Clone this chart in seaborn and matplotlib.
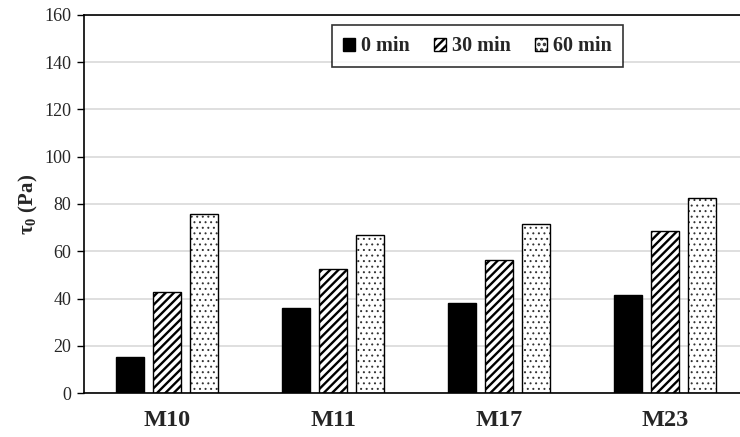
import matplotlib
matplotlib.use("Agg")
import matplotlib.pyplot as plt
import seaborn as sns
import pandas as pd

categories = ["M10", "M11", "M17", "M23"]
series_names = ["0 min", "30 min", "60 min"]
v0 = [15.4, 35.8, 38.0, 41.6]
v30 = [42.9, 52.6, 56.3, 68.6]
v60 = [75.8, 66.7, 71.5, 82.7]
yticks = [0, 20, 40, 60, 80, 100, 120, 140, 160]

rows = []
for name, vals in zip(series_names, [v0, v30, v60]):
    for c, v in zip(categories, vals):
        rows.append({"cat": c, "time": name, "val": v})
df = pd.DataFrame(rows)

sns.set_style("white")
plt.rcParams["font.family"] = ["Liberation Serif", "DejaVu Serif"]
plt.rcParams["mathtext.fontset"] = "custom"
plt.rcParams["mathtext.rm"] = "Liberation Serif"
plt.rcParams["mathtext.bf"] = "Liberation Serif:bold"
plt.rcParams["hatch.linewidth"] = 1.7

fig = plt.figure(figsize=(7.4, 4.37), dpi=100)
ax = fig.add_axes([84 / 740, (437 - 393) / 437, (740 - 84) / 740, 378 / 437])

sns.barplot(data=df, x="cat", y="val", hue="time", order=categories,
            hue_order=series_names, palette=["black", "white", "white"],
            width=0.67, gap=0.24, edgecolor="black", linewidth=1.0,
            saturation=1, ax=ax, legend=False)

hatches = ["", "////", "..."]
hcolors = [(0, 0, 0, 1), (0, 0, 0, 1), (0.2, 0.2, 0.2, 1)]
hlw = [1.7, 1.7, 0.7]
for cont, h, hc, lw in zip(ax.containers, hatches, hcolors, hlw):
    for p in cont:
        p.set_hatch(h)
        p.set_edgecolor("black")
        p._hatch_color = hc
        if hasattr(p, "set_hatch_linewidth"):
            p.set_hatch_linewidth(lw)
        else:
            p._hatch_linewidth = lw

ax.set_xlim(-0.5, 3.45)
ax.set_ylim(0, 160)
ax.set_yticks(yticks)
ax.set_yticklabels([str(t) for t in yticks], fontsize=13)
ax.yaxis.grid(True, color="#d9d9d9", linewidth=1.2)
ax.set_axisbelow(True)
ax.tick_params(axis="y", direction="out", length=5, width=1, color="black", pad=4, left=True)
ax.tick_params(axis="x", length=0, pad=12)
for lab in ax.get_xticklabels():
    lab.set_fontsize(17.5)
    lab.set_fontweight("bold")
ax.set_xlabel("")
ax.set_ylabel(r"τ$_\mathbf{0}$ (Pa)", fontsize=15, fontweight="bold", labelpad=3)
for s in ["left", "bottom", "top"]:
    ax.spines[s].set_visible(True)
    ax.spines[s].set_color("black")
    ax.spines[s].set_linewidth(1.2)
ax.spines["right"].set_visible(False)

handles = [c.patches[0] for c in ax.containers]
leg = ax.legend(handles, series_names, ncol=3, loc="upper center",
                bbox_to_anchor=(0.60, 0.973), borderaxespad=0, frameon=True,
                fancybox=False, edgecolor="black", handlelength=0.6,
                handleheight=0.6, handletextpad=0.3, columnspacing=1.2,
                borderpad=0.55, prop={"weight": "bold", "size": 14.5})
leg.get_frame().set_linewidth(1.2)

fig.savefig("out.png", dpi=100)
